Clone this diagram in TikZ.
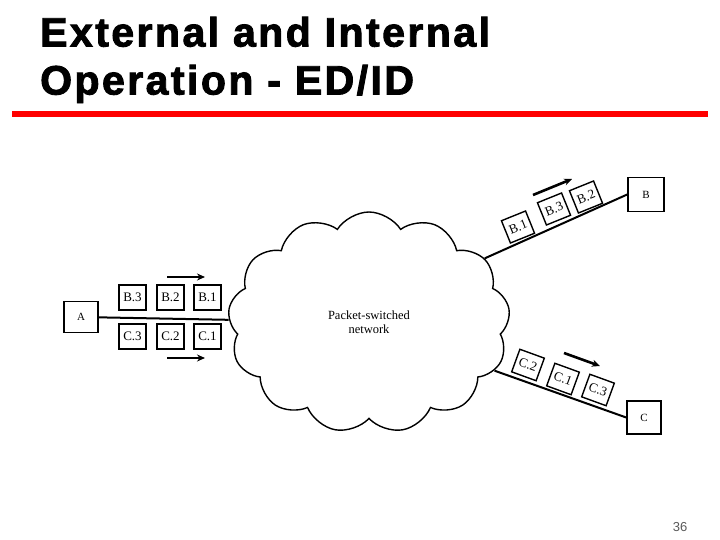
\documentclass[tikz,border=0pt]{standalone}
\usepackage{fontspec}
\setmainfont{Liberation Serif}
\newfontfamily\titlefont[LetterSpace=6,FakeBold=2.2]{Liberation Sans Bold}
\newfontfamily\numfont{Liberation Sans}
\usetikzlibrary{shapes.symbols,arrows.meta}

\begin{document}
\begin{tikzpicture}[x=1pt,y=-1pt]

      \tikzset{pkt/.style={draw, line width=1.4pt, minimum width=27pt, minimum height=25pt, inner sep=0pt, font=\fontsize{13}{13}\selectfont},
               host/.style={draw, line width=1.6pt, minimum width=34pt, minimum height=31pt, inner sep=0pt, font=\fontsize{11}{11}\selectfont},
               link/.style={line width=2pt},
               flow/.style={line width=2.6pt, -{Stealth[length=8pt,width=7pt]}}}
      \useasboundingbox (0,0) rectangle (720,540);
%% Title
      \node[anchor=base west, inner sep=0pt, font=\titlefont\fontsize{41}{41}\selectfont] (title1) at (40,46.5) {External and Internal};
      \node[anchor=base west, inner sep=0pt, font=\titlefont\fontsize{41}{41}\selectfont] (title2) at (40,94.5) {Operation - ED/ID};
      \draw[red, line width=6pt] (12,114) -- (708,114);
%% Hosts
      \node[host] (A) at (81,317) {A};
      \node[host, minimum width=36pt, minimum height=34pt] (B) at (646,194.5) {B};
      \node[host, minimum height=33pt] (C) at (644,417.5) {C};
%% Network
      \node[cloud, draw, cloud puffs=13, cloud puff arc=115, cloud ignores aspect, minimum width=282pt, minimum height=221pt, line width=1.4pt, align=center, font=\fontsize{12.5}{14}\selectfont] (cloud) at (369,322.5) {Packet-switched\\network};
%% Packets at A
      \node[pkt] (b3) at (132.5,297.5) {B.3};
      \node[pkt] (b2) at (170.5,297.5) {B.2};
      \node[pkt] (b1) at (207.5,297.5) {B.1};
      \node[pkt] (c3) at (132.5,336.5) {C.3};
      \node[pkt] (c2) at (170.5,336.5) {C.2};
      \node[pkt] (c1) at (207.5,336.5) {C.1};
%% Packets towards B and C
      \node[pkt, rotate=22, minimum width=26pt, minimum height=24pt] (b1out) at (518,227) {B.1};
      \node[pkt, rotate=22, minimum width=26pt, minimum height=24pt] (b3out) at (554,209) {B.3};
      \node[pkt, rotate=22, minimum width=26pt, minimum height=24pt] (b2out) at (586,197) {B.2};
      \node[pkt, rotate=-20, minimum width=26pt, minimum height=24pt] (c2out) at (528,365) {C.2};
      \node[pkt, rotate=-20, minimum width=26pt, minimum height=24pt] (c1out) at (563,379) {C.1};
      \node[pkt, rotate=-20, minimum width=26pt, minimum height=24pt] (c3out) at (598,390) {C.3};
%% Arrow ends
      \coordinate (fa0) at (167,277);  \coordinate (fa1) at (205,277);
      \coordinate (fc0) at (167,358);  \coordinate (fc1) at (205,358);
      \coordinate (fb0) at (533,195);  \coordinate (fb1) at (572,179);
      \coordinate (fd0) at (564,353);  \coordinate (fd1) at (600,366);
%Edges
		\path[link] (A) edge (cloud);
		\path[link] (cloud.29) edge (B.west);
		\path[link] (cloud.-21) edge (C.west);
%Arrows
		\draw[flow] (fa0) -- (fa1);
		\draw[flow] (fc0) -- (fc1);
		\draw[flow] (fb0) -- (fb1);
		\draw[flow] (fd0) -- (fd1);
%% Page number
      \node[font=\numfont\fontsize{13}{13}\selectfont, text=black!65] (page) at (680,527) {36};

	\end{tikzpicture}
\end{document}
